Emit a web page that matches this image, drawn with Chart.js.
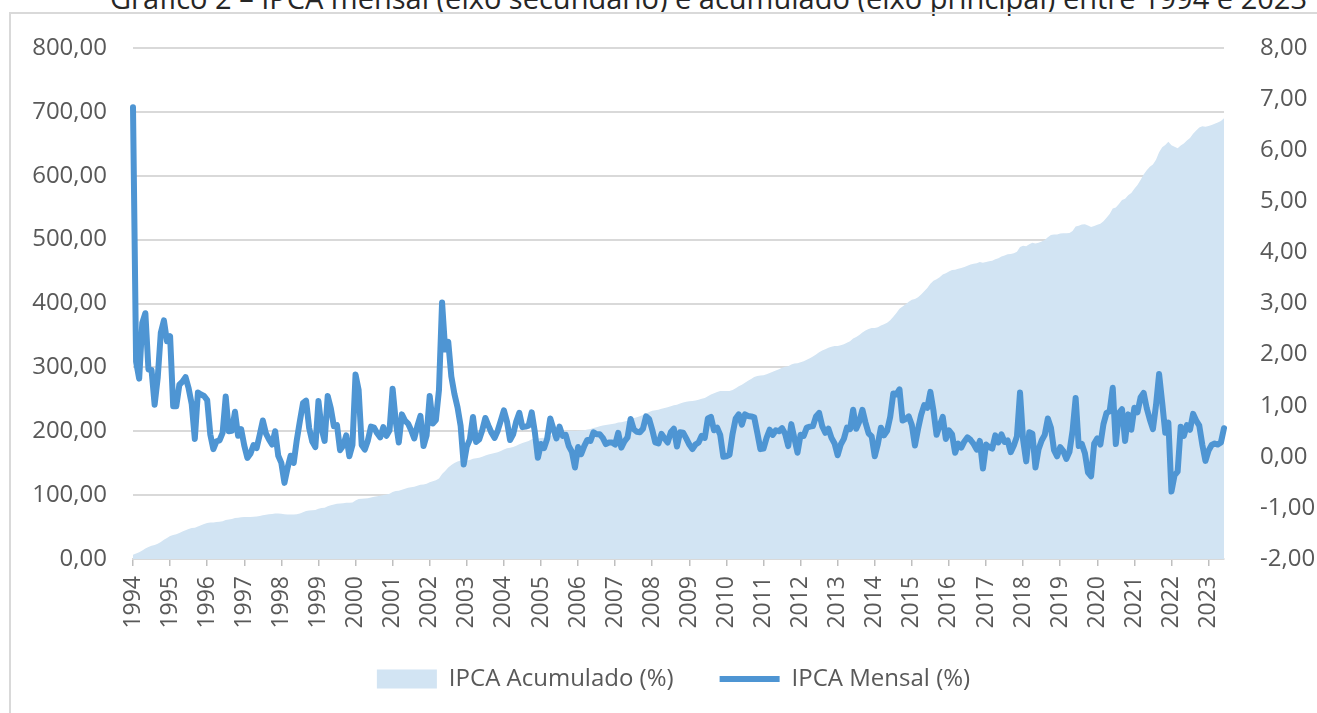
<!DOCTYPE html>
<html lang="pt-BR">
<head>
<meta charset="utf-8">
<title>IPCA mensal e acumulado 1994-2023</title>
<script src="https://cdn.jsdelivr.net/npm/chart.js@4.4.1/dist/chart.umd.min.js"></script>
<style>
  html, body { margin: 0; padding: 0; background: #fff; overflow: hidden; }
  #titulo {
    position: absolute; top: -17px; left: 100px; width: 1217px;
    text-align: center; font: 29px/30px "Open Sans", sans-serif; color: #262626;
    white-space: nowrap;
  }
  #moldura {
    position: absolute; left: 9px; top: 12px; width: 1400px; height: 800px;
    border: 2px solid #d9d9d9;
  }
  #grafico { position: absolute; left: 0; top: 0; }
</style>
</head>
<body>
<div id="titulo">Gráfico 2 – IPCA mensal (eixo secundário) e acumulado (eixo principal) entre 1994 e 2023</div>
<div id="moldura"></div>
<canvas id="grafico" width="1317" height="713"></canvas>

<script>
// anos que aparecem no eixo x (um rótulo a cada 12 meses, a partir de jul/1994)
const anos = ["1994","1995","1996","1997","1998","1999","2000","2001","2002","2003",
  "2004","2005","2006","2007","2008","2009","2010","2011","2012","2013",
  "2014","2015","2016","2017","2018","2019","2020","2021","2022","2023"];
const mesesAbrev = ["jan","fev","mar","abr","mai","jun","jul","ago","set","out","nov","dez"];

// IPCA mensal (%), jul/1994 a dez/2023
const ipcaMensal = [
  6.84,1.86,1.53,2.62,2.81,1.71,
  1.70,1.02,1.55,2.43,2.67,2.26,2.36,0.99,0.99,1.41,1.47,1.56,
  1.34,1.03,0.35,1.26,1.22,1.19,1.11,0.44,0.15,0.30,0.32,0.47,
  1.18,0.50,0.51,0.88,0.41,0.54,0.22,-0.02,0.06,0.23,0.17,0.43,
  0.71,0.46,0.34,0.24,0.50,0.02,-0.12,-0.51,-0.22,0.02,-0.12,0.33,
  0.70,1.05,1.10,0.56,0.30,0.19,1.09,0.56,0.31,1.19,0.95,0.60,
  0.62,0.13,0.22,0.42,0.01,0.23,1.61,1.31,0.23,0.14,0.32,0.59,
  0.57,0.46,0.38,0.58,0.41,0.52,1.33,0.70,0.28,0.83,0.71,0.65,
  0.52,0.36,0.60,0.80,0.21,0.42,1.19,0.65,0.72,1.31,3.02,2.10,
  2.25,1.57,1.23,0.97,0.61,-0.15,0.20,0.34,0.78,0.29,0.34,0.52,
  0.76,0.61,0.47,0.37,0.51,0.71,0.91,0.69,0.33,0.44,0.69,0.86,
  0.58,0.59,0.61,0.87,0.49,-0.02,0.25,0.17,0.35,0.75,0.55,0.36,
  0.59,0.41,0.43,0.21,0.10,-0.21,0.19,0.05,0.21,0.33,0.31,0.48,
  0.44,0.44,0.37,0.25,0.28,0.28,0.24,0.47,0.18,0.30,0.38,0.74,
  0.54,0.49,0.48,0.55,0.79,0.74,0.53,0.28,0.26,0.45,0.36,0.28,
  0.48,0.55,0.20,0.48,0.47,0.36,0.24,0.15,0.24,0.28,0.41,0.37,
  0.75,0.78,0.52,0.57,0.43,0.00,0.01,0.04,0.45,0.75,0.83,0.63,
  0.83,0.80,0.79,0.77,0.47,0.15,0.16,0.37,0.53,0.43,0.52,0.50,
  0.56,0.45,0.21,0.64,0.36,0.08,0.43,0.41,0.57,0.59,0.60,0.79,
  0.86,0.60,0.47,0.55,0.37,0.26,0.03,0.24,0.35,0.57,0.54,0.92,
  0.55,0.69,0.92,0.67,0.46,0.40,0.01,0.25,0.57,0.42,0.51,0.78,
  1.24,1.22,1.32,0.71,0.74,0.79,0.62,0.22,0.54,0.82,1.01,0.96,
  1.27,0.90,0.43,0.61,0.78,0.35,0.52,0.44,0.08,0.26,0.18,0.30,
  0.38,0.33,0.25,0.14,0.31,-0.23,0.24,0.19,0.16,0.42,0.28,0.44,
  0.29,0.32,0.09,0.22,0.40,1.26,0.33,-0.09,0.48,0.45,-0.21,0.15,
  0.32,0.43,0.75,0.57,0.13,0.01,0.19,0.11,-0.04,0.10,0.51,1.15,
  0.21,0.25,0.07,-0.31,-0.38,0.26,0.36,0.24,0.64,0.86,0.89,1.35,
  0.25,0.86,0.93,0.31,0.83,0.53,0.96,0.87,1.16,1.25,0.95,0.73,
  0.54,1.01,1.62,1.06,0.47,0.67,-0.68,-0.36,-0.29,0.59,0.41,0.62,
  0.53,0.84,0.71,0.61,0.23,-0.08,0.12,0.23,0.26,0.24,0.28,0.56
];

// IPCA acumulado (%) desde jul/1994
const ipcaAcumulado = [
  6.8,8.8,10.5,13.4,16.6,18.6,
  20.6,21.8,23.7,26.7,30.1,33.0,36.2,37.5,38.9,40.8,42.9,45.1,
  47.1,48.6,49.1,51.0,52.8,54.7,56.4,57.1,57.3,57.8,58.3,59.0,
  60.9,61.7,62.5,64.0,64.6,65.5,65.9,65.8,65.9,66.3,66.6,67.3,
  68.5,69.3,69.9,70.3,71.1,71.2,71.0,70.1,69.7,69.7,69.5,70.1,
  71.3,73.1,75.0,76.0,76.5,76.8,78.8,79.8,80.3,82.5,84.2,85.3,
  86.5,86.7,87.1,87.9,87.9,88.3,91.4,93.9,94.3,94.6,95.2,96.4,
  97.5,98.4,99.2,100.3,101.1,102.2,104.9,106.3,106.9,108.6,110.1,111.4,
  112.5,113.3,114.6,116.3,116.8,117.7,120.3,121.7,123.3,126.2,133.0,137.9,
  143.3,147.1,150.1,152.6,154.1,153.7,154.2,155.1,157.1,157.8,158.7,160.1,
  162.0,163.6,164.9,165.9,167.2,169.1,171.6,173.4,174.3,175.5,177.4,179.8,
  181.5,183.1,184.8,187.3,188.7,188.7,189.4,189.9,190.9,193.1,194.7,195.8,
  197.5,198.7,200.0,200.6,200.9,200.3,200.9,201.0,201.7,202.6,203.6,205.0,
  206.4,207.7,208.9,209.6,210.5,211.4,212.1,213.6,214.2,215.1,216.3,218.6,
  220.4,221.9,223.5,225.3,227.8,230.2,232.0,232.9,233.8,235.3,236.5,237.4,
  239.1,240.9,241.6,243.3,244.9,246.1,246.9,247.5,248.3,249.3,250.7,252.0,
  254.6,257.4,259.3,261.3,262.9,262.9,262.9,263.0,264.7,267.4,270.5,272.8,
  275.9,278.9,281.9,284.8,286.6,287.2,287.8,289.3,291.3,293.0,295.1,297.0,
  299.3,301.1,301.9,304.5,305.9,306.3,308.0,309.7,312.0,314.4,316.9,320.2,
  323.8,326.4,328.4,330.7,332.3,333.5,333.6,334.6,336.1,338.6,341.0,345.1,
  347.5,350.6,354.7,357.8,359.9,361.7,361.8,362.9,365.6,367.5,369.9,373.6,
  379.4,385.3,391.7,395.2,398.9,402.8,405.9,407.0,409.8,414.0,419.1,424.1,
  430.8,435.6,437.9,441.1,445.4,447.3,450.1,452.5,453.0,454.4,455.4,457.1,
  459.2,461.0,462.4,463.2,465.0,463.7,465.0,466.1,467.0,469.4,471.0,473.5,
  475.2,477.0,477.5,478.8,481.1,488.4,490.4,489.8,492.7,495.3,494.1,495.0,
  496.9,499.5,503.9,507.4,508.2,508.2,509.4,510.1,509.8,510.4,513.5,520.6,
  521.9,523.5,523.9,522.0,519.6,521.2,523.4,524.9,528.9,534.4,540.0,548.6,
  550.3,555.9,561.9,564.0,569.5,573.1,579.5,585.4,593.4,602.1,608.7,613.9,
  617.8,625.0,636.7,644.6,648.1,653.1,647.9,645.3,643.1,647.5,650.5,655.2,
  659.2,665.6,671.0,675.7,677.5,676.9,677.8,679.6,681.6,683.5,685.7,690.1
];

// categorias mensais: jul/1994 ... dez/2023
const meses = [];
for (let i = 0; i < ipcaMensal.length; i++) {
  let m = (6 + i) % 12;
  let a = 1994 + Math.floor((6 + i) / 12);
  meses.push(mesesAbrev[m] + "/" + a);
}

const cinza = "#595959";
const fonte = "'Open Sans', sans-serif";
const virgula = v => v.toFixed(2).replace(".", ",");

new Chart(document.getElementById("grafico"), {
  type: "line",
  data: {
    labels: meses,
    datasets: [
      {
        label: "IPCA Acumulado (%)",
        data: ipcaAcumulado,
        yAxisID: "y",
        fill: "origin",
        backgroundColor: "#d2e4f3",
        borderColor: "#d2e4f3",
        borderWidth: 0,
        pointRadius: 0,
        tension: 0,
        order: 2
      },
      {
        label: "IPCA Mensal (%)",
        data: ipcaMensal,
        yAxisID: "y1",
        fill: false,
        borderColor: "#4e95d3",
        backgroundColor: "#4e95d3",
        borderWidth: 6,
        borderJoinStyle: "round",
        borderCapStyle: "round",
        pointRadius: 0,
        tension: 0,
        order: 1
      }
    ]
  },
  options: {
    responsive: false,
    animation: false,
    devicePixelRatio: 1,
    layout: { padding: { left: 30, right: 0, top: 48, bottom: 12 } },
    plugins: {
      title: { display: false },
      tooltip: { enabled: false },
      legend: {
        position: "bottom",
        labels: {
          usePointStyle: true,
          pointStyleWidth: 60,
          boxHeight: 19,
          padding: 10,
          color: cinza,
          font: { family: fonte, size: 24 },
          sort: (a, b) => a.datasetIndex - b.datasetIndex,
          generateLabels: chart => {
            let itens = Chart.defaults.plugins.legend.labels.generateLabels(chart);
            itens.forEach(it => {
              if (it.datasetIndex === 0) {
                it.pointStyle = "rect";
                it.lineWidth = 0;
                it.text = it.text + "\u2003\u2002";
              } else {
                it.pointStyle = "line";
                it.lineWidth = 6;
                it.strokeStyle = "#4e95d3";
              }
            });
            return itens;
          }
        }
      }
    },
    scales: {
      x: {
        type: "category",
        offset: false,
        afterFit: s => { s.height = 98; },
        grid: {
          display: true,
          drawOnChartArea: false,
          drawTicks: true,
          tickLength: 7,
          color: "#bfbfbf",
          lineWidth: 1.5
        },
        border: { display: true, color: "#d9d9d9", width: 2 },
        ticks: {
          autoSkip: false,
          minRotation: 90,
          maxRotation: 90,
          padding: 10,
          color: cinza,
          font: { family: fonte, size: 23 },
          callback: (v, i) => (i % 12 === 0 ? anos[i / 12] : null)
        }
      },
      y: {
        position: "left",
        min: 0,
        max: 800,
        afterFit: s => { s.width = 103; },
        grid: { color: "#d9d9d9", lineWidth: 2, drawTicks: false },
        border: { display: false },
        ticks: {
          stepSize: 100,
          padding: 26,
          color: cinza,
          font: { family: fonte, size: 24 },
          callback: v => virgula(v)
        }
      },
      y1: {
        position: "right",
        min: -2,
        max: 8,
        afterFit: s => { s.width = 93; },
        grid: { display: false, drawOnChartArea: false },
        border: { display: false },
        ticks: {
          stepSize: 1,
          padding: 28,
          color: cinza,
          font: { family: fonte, size: 24 },
          callback: v => virgula(v)
        }
      }
    }
  }
});
</script>
</body>
</html>
